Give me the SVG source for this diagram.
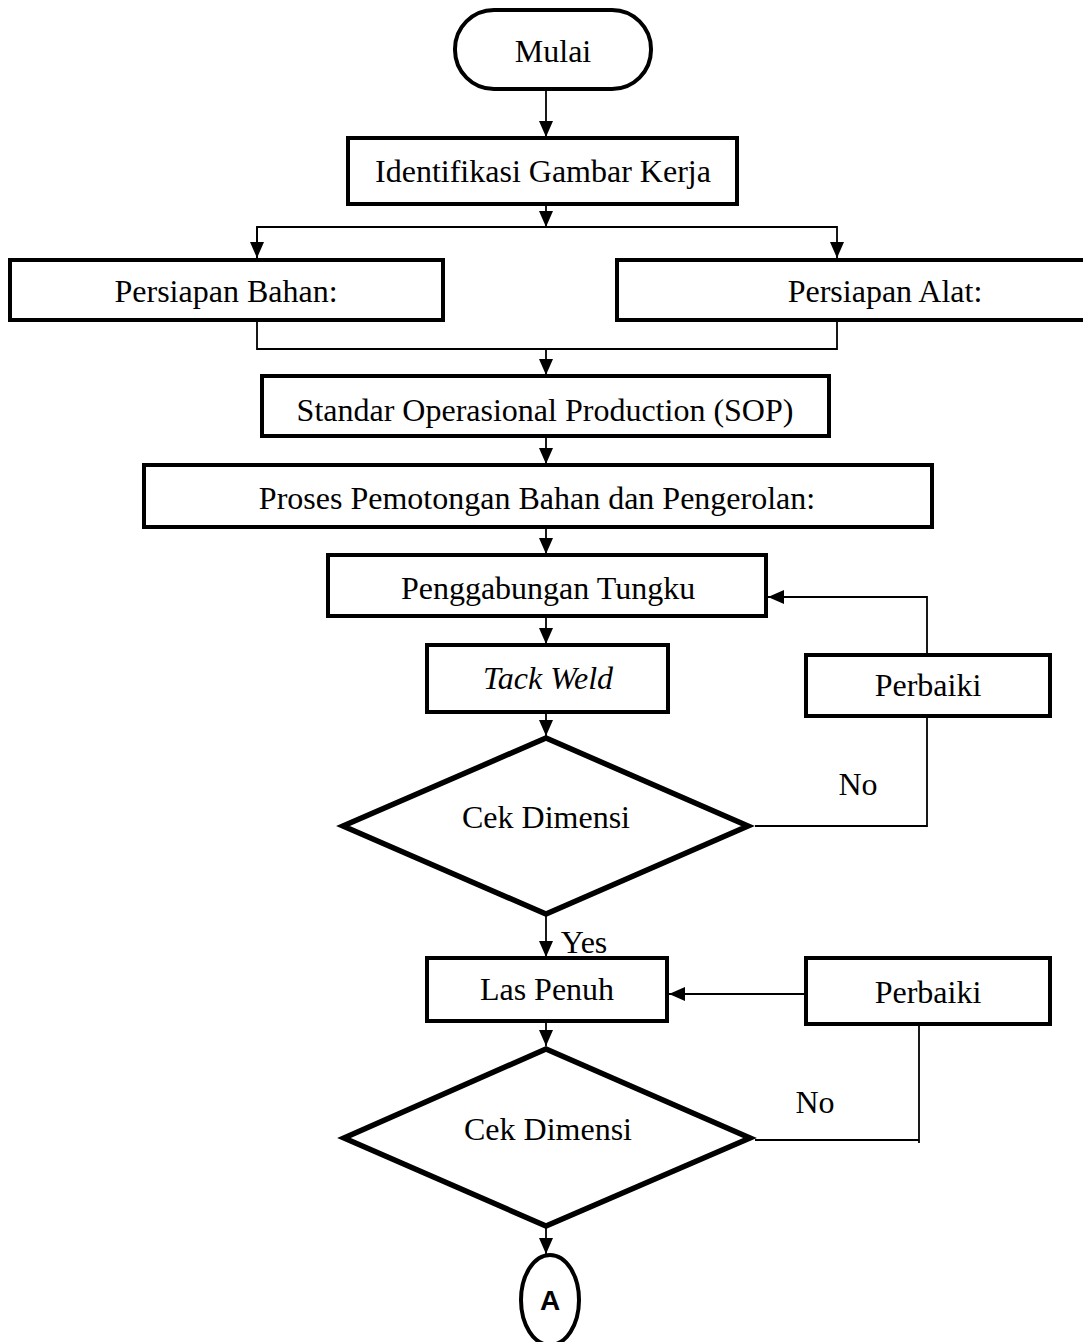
<svg xmlns="http://www.w3.org/2000/svg" width="1083" height="1342" viewBox="0 0 1083 1342">
<style>
.box{fill:#fff;stroke:#000;stroke-width:4}
.dia{fill:#fff;stroke:#000;stroke-width:5.5}
.t{font-family:"Liberation Serif","Times New Roman",serif;font-size:32px;fill:#000;text-anchor:middle;dominant-baseline:central}
.c{fill:none;stroke:#000;stroke-width:1.8}
</style>
<defs>
<marker id="ah" markerWidth="16" markerHeight="14" refX="16" refY="7" orient="auto" markerUnits="userSpaceOnUse" viewBox="0 0 16 14">
<path d="M0,0 L16,7 L0,14 z" fill="#000"/>
</marker>
</defs>
<g id="connectors">
<line class="c" x1="546" y1="89" x2="546" y2="137" marker-end="url(#ah)"/>
<line class="c" x1="546" y1="204" x2="546" y2="227" marker-end="url(#ah)"/>
<polyline class="c" points="257,258 257,227 837,227 837,258" marker-end="url(#ah)"/>
<line class="c" x1="257" y1="227" x2="257" y2="258" marker-end="url(#ah)"/>
<polyline class="c" points="257,320 257,349 837,349 837,320"/>
<line class="c" x1="546" y1="349" x2="546" y2="375" marker-end="url(#ah)"/>
<line class="c" x1="546" y1="436" x2="546" y2="464" marker-end="url(#ah)"/>
<line class="c" x1="546" y1="527" x2="546" y2="554" marker-end="url(#ah)"/>
<polyline class="c" points="927,655 927,597 768,597" marker-end="url(#ah)"/>
<line class="c" x1="546" y1="616" x2="546" y2="644" marker-end="url(#ah)"/>
<polyline class="c" points="927,716 927,826 755,826"/>
<line class="c" x1="546" y1="712" x2="546" y2="736" marker-end="url(#ah)"/>
<line class="c" x1="546" y1="915" x2="546" y2="957" marker-end="url(#ah)"/>
<line class="c" x1="806" y1="994" x2="669" y2="994" marker-end="url(#ah)"/>
<polyline class="c" points="919,1024 919,1143"/>
<line class="c" x1="755" y1="1140" x2="919" y2="1140"/>
<line class="c" x1="546" y1="1021" x2="546" y2="1046" marker-end="url(#ah)"/>
<line class="c" x1="546" y1="1227" x2="546" y2="1254" marker-end="url(#ah)"/>
</g>
<g id="mulai"><rect class="box" x="455" y="10" width="196" height="79" rx="39" ry="39"/><text class="t" x="553" y="51">Mulai</text></g>
<g id="identifikasi"><rect class="box" x="348" y="138" width="389" height="66"/><text class="t" x="543" y="171">Identifikasi Gambar Kerja</text></g>
<g id="bahan"><rect class="box" x="10" y="260" width="433" height="60"/><text class="t" x="226" y="291">Persiapan Bahan:</text></g>
<g id="alat"><rect class="box" x="617" y="260" width="470" height="60"/><text class="t" x="885" y="291">Persiapan Alat:</text></g>
<g id="sop"><rect class="box" x="262" y="376" width="567" height="60"/><text class="t" x="545" y="410">Standar Operasional Production (SOP)</text></g>
<g id="proses"><rect class="box" x="144" y="465" width="788" height="62"/><text class="t" x="537" y="498">Proses Pemotongan Bahan dan Pengerolan:</text></g>
<g id="penggabungan"><rect class="box" x="328" y="555" width="438" height="61"/><text class="t" x="548" y="588">Penggabungan Tungku</text></g>
<g id="tackweld"><rect class="box" x="427" y="645" width="241" height="67"/><text class="t" x="548" y="678" font-style="italic">Tack Weld</text></g>
<g id="perbaiki1"><rect class="box" x="806" y="655" width="244" height="61"/><text class="t" x="928" y="685">Perbaiki</text></g>
<g id="cek1"><polygon class="dia" points="546,738 748,826 546,914 343,826"/><text class="t" x="546" y="817">Cek Dimensi</text></g>
<text class="t" x="858" y="784">No</text>
<text class="t" x="584" y="942">Yes</text>
<g id="laspenuh"><rect class="box" x="427" y="958" width="240" height="63"/><text class="t" x="547" y="989">Las Penuh</text></g>
<g id="perbaiki2"><rect class="box" x="806" y="958" width="244" height="66"/><text class="t" x="928" y="992">Perbaiki</text></g>
<g id="cek2"><polygon class="dia" points="546,1049 750,1138 546,1226 344,1138"/><text class="t" x="548" y="1129">Cek Dimensi</text></g>
<text class="t" x="815" y="1102">No</text>
<g id="connectorA"><ellipse class="box" cx="550" cy="1300" rx="29" ry="45"/><text x="550" y="1300" font-family="'Liberation Sans',Arial,sans-serif" font-weight="bold" font-size="28" text-anchor="middle" dominant-baseline="central">A</text></g>
</svg>
